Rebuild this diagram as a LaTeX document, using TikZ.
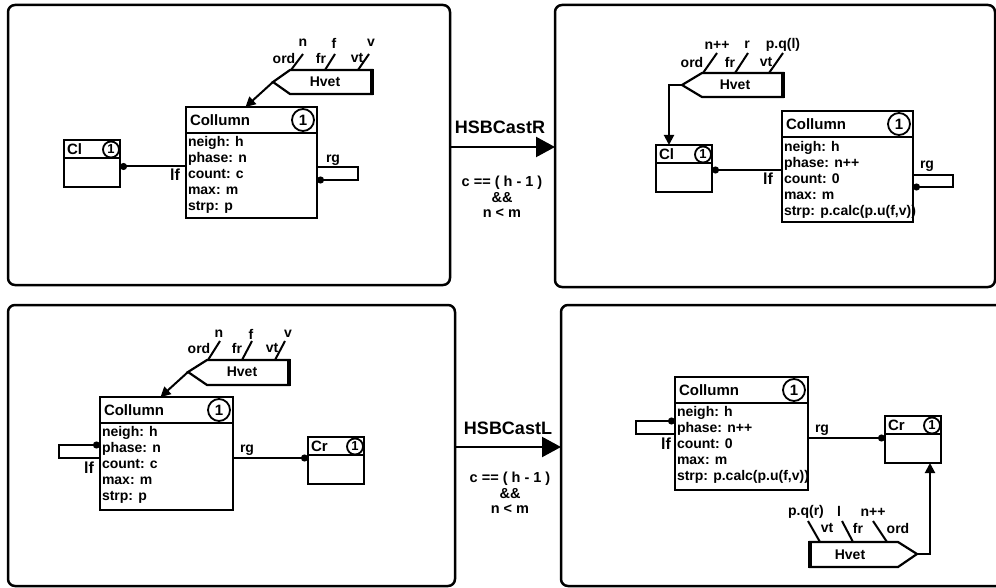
\documentclass[tikz,border=0pt]{standalone}
\usepackage{fontspec}
\setmainfont{Liberation Sans}
\usetikzlibrary{arrows.meta}
\newcommand\fsz[1]{\fontsize{#1}{#1}\selectfont}
\newcommand\mkcollumn[5]{%
  \node[box, minimum width=#4pt, minimum height=#5pt] (#1) at (#2,#3) {};
  \draw[boxline] ([yshift=-26pt]#1.north west) -- ([yshift=-26pt]#1.north east);
  \node[font=\bfseries\fsz{15}, anchor=west] (#1-t) at ([xshift=4pt,yshift=-13pt]#1.north west) {Collumn};
  \node[circ, minimum size=22pt, font=\bfseries\fsz{15}] (#1-n) at ([xshift=-14pt,yshift=-13pt]#1.north east) {1};
}
\newcommand\mksmallbox[4]{%
  \node[box, minimum width=56pt, minimum height=47pt] (#1) at (#2,#3) {};
  \draw[boxline] ([yshift=-18pt]#1.north west) -- ([yshift=-18pt]#1.north east);
  \node[font=\bfseries\fsz{15}, anchor=west] (#1-t) at ([xshift=3pt,yshift=-9pt]#1.north west) {#4};
  \node[circ, minimum size=16pt, font=\bfseries\fsz{13}] (#1-n) at ([xshift=-9pt,yshift=-9.5pt]#1.north east) {1};
}
\begin{document}
\begin{tikzpicture}[x=1pt,y=-1pt,
  every node/.style={font=\bfseries\fsz{14}, inner sep=0pt, outer sep=0pt},
  panel/.style={draw, line width=2.5pt, rounded corners=7pt, anchor=north west},
  box/.style={draw, line width=1.8pt, anchor=north west},
  boxline/.style={line width=1.8pt},
  circ/.style={draw, circle, line width=1.8pt, inner sep=0pt},
  attr/.style={align=left, anchor=north west, font=\bfseries\fontsize{14}{15.9}\selectfont},
  hv/.style={draw, line width=2.2pt, line join=miter},
  hvthick/.style={line width=4.5pt},
  stub/.style={line width=2pt},
  arr/.style={line width=2pt, -{Triangle[length=10pt,width=10pt]}},
  dotconn/.style={line width=2pt, {Circle[length=7pt]}-},
  dotend/.style={line width=2pt, -{Circle[length=7pt]}},
  bigarr/.style={line width=2.2pt, -{Triangle[length=19pt,width=20pt]}},
  lfl/.style={font=\bfseries\fsz{16}},
  cond/.style={align=center, font=\bfseries\fontsize{14.5}{15.5}\selectfont},
  title/.style={font=\bfseries\fsz{18}}
]
\useasboundingbox (0,0) rectangle (996,588);

% panels
\node[panel, minimum width=442pt, minimum height=280pt] (P1) at (8,5) {};
\node[panel, minimum width=440pt, minimum height=282pt] (P2) at (555,5) {};
\node[panel, minimum width=447pt, minimum height=281pt] (P3) at (8,305) {};
\node[panel, minimum width=446pt, minimum height=281pt] (P4) at (561,305) {};

% transitions
\coordinate (tR) at (500,147);
\coordinate (tL) at (508,447);
\draw[bigarr] (P1.east |- tR) -- (P2.west |- tR);
\draw[bigarr] (P3.east |- tL) -- (P4.west |- tL);
\node[title] (tRt) at (500,127) {HSBCastR};
\node[cond] (tRc) at (502,197) {c == ( h - 1 )\\\&\&\\n < m};
\node[title] (tLt) at (508,428) {HSBCastL};
\node[cond] (tLc) at (510,493) {c == ( h - 1 )\\\&\&\\n < m};

% ===== Panel 1 =====
\mkcollumn{c1}{186}{107}{131}{111}
\node[attr] (c1-a) at ([xshift=2pt,yshift=-29.5pt]c1.north west) {neigh: h\\phase: n\\count: c\\max: m\\strp: p};
\mksmallbox{cl1}{64}{140}{Cl}
\coordinate (k1) at ([yshift=-3pt]cl1.east);
\draw[dotconn] (k1) -- (k1 -| c1.west);
\node[lfl] (lf1) at (175,175) {lf};
\draw[dotconn] (c1.east |- 0,180) -- ++(41,0) -- ++(0,-13) -- (c1.east |- 0,167);
\node (rg1) at (333,160) {rg};
\draw[hv] (273,82) -- (290,70) -- (372,70) -- (372,94) -- (290,94) -- cycle;
\draw[hvthick] (372,69) -- (372,95);
\node (h1) at (325,82) {Hvet};
\coordinate (h1tip) at (273,82);
\draw[stub] (291,70) -- (303,54);
\draw[stub] (325,70) -- (335,54);
\draw[stub] (358,70) -- (369,54);
\node (h1o) at (284,58) {ord};
\node (h1n) at (303,43) {n};
\node (h1f) at (321,58) {fr};
\node (h1fv) at (334,43) {f};
\node (h1v) at (357,58) {vt};
\node (h1vv) at (371,43) {v};
\draw[arr] (h1tip) -- ([xshift=-6pt]c1.north);

% ===== Panel 2 =====
\mkcollumn{c2}{782}{111}{131}{111}
\node[attr] (c2-a) at ([xshift=2pt,yshift=-30.5pt]c2.north west) {neigh: h\\phase: n++\\count: 0\\max: m\\strp: p.calc(p.u(f,v))};
\mksmallbox{cl2}{656}{145}{Cl}
\coordinate (k2) at ([yshift=-1.5pt]cl2.east);
\draw[dotconn] (k2) -- (k2 -| c2.west);
\node[lfl] (lf2) at (768,179) {lf};
\draw[dotconn] (c2.east |- 0,187) -- ++(40,0) -- ++(0,-12) -- (c2.east |- 0,175);
\node (rg2) at (927,166) {rg};
\draw[hv] (682,85) -- (702,73) -- (783,73) -- (783,97) -- (702,97) -- cycle;
\draw[hvthick] (783,72) -- (783,98);
\node (h2) at (735,85) {Hvet};
\coordinate (h2tip) at (682,85);
\draw[stub] (703,73) -- (717,53);
\draw[stub] (735,73) -- (748,53);
\draw[stub] (769,73) -- (783,53);
\node (h2o) at (692,62) {ord};
\node (h2n) at (717,45) {n++};
\node (h2f) at (730,62) {fr};
\node (h2r) at (747,45) {r};
\node (h2v) at (766,62) {vt};
\node (h2p) at (783,45) {p.q(l)};
\draw[arr] (h2tip) -| ([xshift=-15pt]cl2.north);

% ===== Panel 3 =====
\mkcollumn{c3}{100}{397}{133}{113}
\node[attr] (c3-a) at ([xshift=2pt,yshift=-29.5pt]c3.north west) {neigh: h\\phase: n\\count: c\\max: m\\strp: p};
\mksmallbox{cr3}{308}{437}{Cr}
\draw[dotend] (c3.east |- 0,458) -- (cr3.west |- 0,458);
\node (rg3) at (247,450) {rg};
\draw[dotconn] (c3.west |- 0,445) -- ++(-41,0) -- ++(0,13) -- (c3.west |- 0,458);
\node[lfl] (lf3) at (89,468) {lf};
\draw[hv] (188,372) -- (207,360) -- (289,360) -- (289,385) -- (207,385) -- cycle;
\draw[hvthick] (289,359) -- (289,386);
\node (h3) at (242,372) {Hvet};
\coordinate (h3tip) at (188,372);
\draw[stub] (208,360) -- (220,341);
\draw[stub] (242,360) -- (252,341);
\draw[stub] (275,360) -- (285,341);
\node (h3o) at (199,348) {ord};
\node (h3n) at (219,334) {n};
\node (h3f) at (237,348) {fr};
\node (h3fv) at (251,334) {f};
\node (h3v) at (272,348) {vt};
\node (h3vv) at (288,334) {v};
\draw[arr] (h3tip) -- ([xshift=-6pt]c3.north);

% ===== Panel 4 =====
\mkcollumn{c4}{675}{377}{133}{113}
\node[attr] (c4-a) at ([xshift=2pt,yshift=-29.5pt]c4.north west) {neigh: h\\phase: n++\\count: 0\\max: m\\strp: p.calc(p.u(f,v))};
\mksmallbox{cr4}{885}{416}{Cr}
\draw[dotend] (c4.east |- 0,438) -- (cr4.west |- 0,438);
\node (rg4) at (822,430) {rg};
\draw[dotconn] (c4.west |- 0,421) -- ++(-39,0) -- ++(0,13) -- (c4.west |- 0,434);
\node[lfl] (lf4) at (666,444) {lf};
\draw[hv] (810,542) -- (898,542) -- (917,554) -- (898,567) -- (810,567) -- cycle;
\draw[hvthick] (810,541) -- (810,568);
\node (h4) at (850,555) {Hvet};
\coordinate (h4tip) at (917,554);
\draw[stub] (820,542) -- (808,521);
\draw[stub] (853,542) -- (842,521);
\draw[stub] (887,542) -- (873,521);
\node (h4p) at (806,512) {p.q(r)};
\node (h4v) at (827,528) {vt};
\node (h4l) at (839,511) {l};
\node (h4f) at (858,528) {fr};
\node (h4n) at (873,512) {n++};
\node (h4o) at (898,528) {ord};
\draw[arr] (h4tip) -| ([xshift=17pt]cr4.south);
\end{tikzpicture}
\end{document}
